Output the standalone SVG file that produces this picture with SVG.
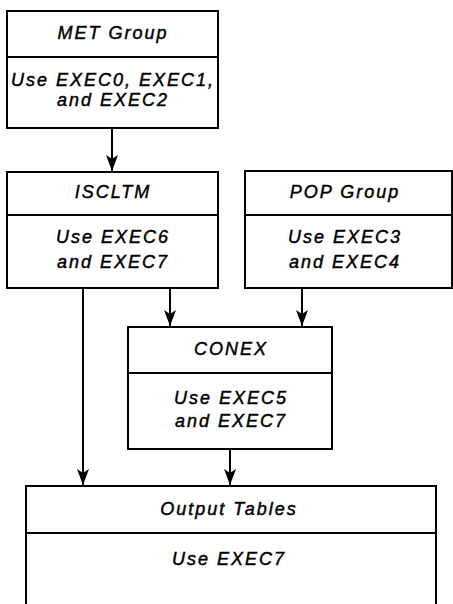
<svg xmlns="http://www.w3.org/2000/svg" width="453" height="604" viewBox="0 0 453 604">
<style>
.box{fill:none;stroke:#000;stroke-width:2}
.t{font-family:"Liberation Sans",Arial,sans-serif;font-style:italic;font-size:18px;letter-spacing:2px;text-anchor:middle;fill:#000;stroke:#000;stroke-width:0.45}
.c{fill:none;stroke:#000;stroke-width:2}
</style>
<defs>
<marker id="ah" markerUnits="userSpaceOnUse" markerWidth="16" markerHeight="12" viewBox="0 0 16 12" refX="16" refY="6" orient="auto">
<path d="M0,0 L16,6 L0,12 L4,6 Z" fill="#000"/>
</marker>
</defs>
<rect width="453" height="604" fill="#fff"/>
<g id="met">
<rect class="box" x="7" y="11" width="211" height="117"/>
<line class="box" x1="7" y1="57" x2="218" y2="57"/>
<text class="t" x="113" y="39">MET Group</text>
<text class="t" x="113" y="86">Use EXEC0, EXEC1,</text>
<text class="t" x="113" y="106">and EXEC2</text>
</g>
<g id="iscltm">
<rect class="box" x="7" y="172" width="211" height="116"/>
<line class="box" x1="7" y1="215" x2="218" y2="215"/>
<text class="t" x="113" y="198">ISCLTM</text>
<text class="t" x="113" y="243">Use EXEC6</text>
<text class="t" x="113" y="268">and EXEC7</text>
</g>
<g id="pop">
<rect class="box" x="245" y="171" width="207" height="117"/>
<line class="box" x1="245" y1="215" x2="452" y2="215"/>
<text class="t" x="345" y="198">POP Group</text>
<text class="t" x="345" y="243">Use EXEC3</text>
<text class="t" x="345" y="268">and EXEC4</text>
</g>
<g id="conex">
<rect class="box" x="128" y="327" width="204" height="122"/>
<line class="box" x1="128" y1="373" x2="332" y2="373"/>
<text class="t" x="231" y="355">CONEX</text>
<text class="t" x="231" y="404">Use EXEC5</text>
<text class="t" x="231" y="427">and EXEC7</text>
</g>
<g id="output">
<path class="box" d="M26,606 L26,486 L436,486 L436,606"/>
<line class="box" x1="26" y1="533" x2="436" y2="533"/>
<text class="t" x="229" y="515">Output Tables</text>
<text class="t" x="229" y="565">Use EXEC7</text>
</g>
<g id="connectors">
<path class="c" d="M112,128 L112,171" marker-end="url(#ah)"/>
<path class="c" d="M170,288 L170,326" marker-end="url(#ah)"/>
<path class="c" d="M302,288 L302,326" marker-end="url(#ah)"/>
<path class="c" d="M83,288 L83,485" marker-end="url(#ah)"/>
<path class="c" d="M230,449 L230,485" marker-end="url(#ah)"/>
</g>
</svg>
